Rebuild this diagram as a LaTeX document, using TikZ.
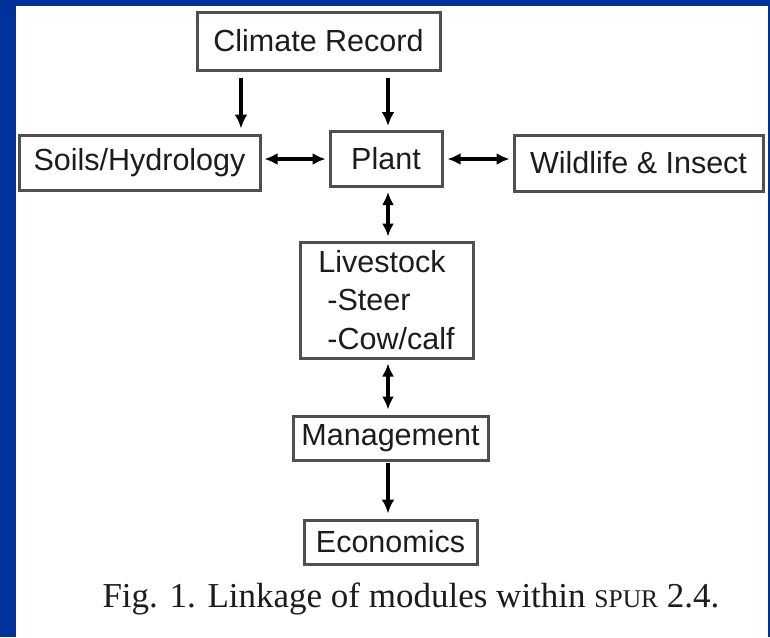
\documentclass[tikz,border=0pt]{standalone}
\usepackage{fontspec}
\setmainfont{Liberation Serif}
\newfontfamily\boxfont{Liberation Sans}
\usetikzlibrary{arrows.meta}
\definecolor{slideblue}{RGB}{0,51,153}
\definecolor{boxline}{RGB}{80,80,80}
\definecolor{inktext}{RGB}{28,28,28}
\begin{document}
\begin{tikzpicture}[x=1pt,y=-1pt,
  module/.style={draw=boxline, line width=3pt, fill=white, inner sep=0pt,
    text=inktext, font=\boxfont\fontsize{30.5}{38.5}\selectfont},
  link/.style={line width=3.5pt, -{Latex[length=14pt,width=13pt]}},
  twoway/.style={line width=3.5pt, {Latex[length=13pt,width=12pt]}-{Latex[length=13pt,width=12pt]}}]
% slide frame
\fill[slideblue] (0,0) rectangle (770,637);
\fill[white] (16,6) rectangle (768,637);
\useasboundingbox (0,0) rectangle (770,637);

% modules
\node[module, minimum width=243pt, minimum height=58pt] (clim) at (318.5,41) {Climate Record};
\node[module, minimum width=241pt, minimum height=55pt] (soil) at (139.5,162.5) {Soils/Hydrology};
\node[module, minimum width=112pt, minimum height=55pt] (plant) at (386,159) {Plant};
\node[module, minimum width=249pt, minimum height=56pt] (wild) at (638.5,163) {Wildlife \& Insect};
\node[module, minimum width=173pt, minimum height=116pt, align=left] (live) at (386.5,300)
  {Livestock\\\hspace*{9pt}-Steer\\\hspace*{9pt}-Cow/calf};
\node[module, minimum width=195pt, minimum height=44pt] (mgmt) at (390.5,438) {Management};
\node[module, minimum width=173pt, minimum height=44pt] (econ) at (390.5,542) {Economics};

% caption
\node[text=inktext, font=\fontsize{35}{35}\selectfont] (cap) at (411,599)
  {Fig. 1. Linkage of modules within {\fontsize{25.5}{25.5}\selectfont SPUR} 2.4.};

% links
\coordinate (c1) at ([xshift=-77.5pt]clim.south);
\coordinate (c2) at ([xshift=69.5pt]clim.south);
\draw[link] ([yshift=-6pt]c1) -- ([yshift=5pt]c1 |- soil.north);
\draw[link] ([yshift=-6pt]c2) -- ([yshift=4pt]c2 |- plant.north);
\draw[twoway] ([xshift=3pt]soil.east |- plant.center) -- ([xshift=-3pt]plant.west);
\draw[twoway] ([xshift=4pt]plant.east) -- ([xshift=-3pt]wild.west |- plant.east);
\draw[twoway] ([xshift=2pt,yshift=-4pt]plant.south) -- ([xshift=1.5pt,yshift=4pt]live.north);
\draw[twoway] ([xshift=1.5pt,yshift=-4pt]live.south) -- ([xshift=-2.5pt,yshift=5pt]mgmt.north);
\draw[link] ([xshift=-2.5pt,yshift=-1pt]mgmt.south) -- ([xshift=-2.5pt,yshift=5pt]econ.north);
\end{tikzpicture}
\end{document}
